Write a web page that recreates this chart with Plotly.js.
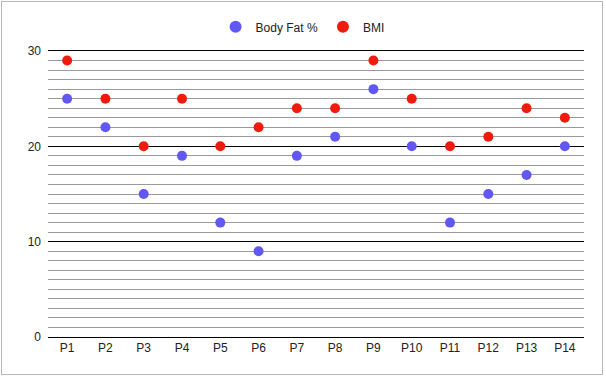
<!DOCTYPE html>
<html><head><meta charset="utf-8">
<script src="https://cdn.plot.ly/plotly-3.0.1.min.js"></script>
<style>
html,body{margin:0;padding:0;background:#fff;}
#wrap{position:relative;width:606px;height:378px;}
#chart{position:absolute;left:0;top:0;width:606px;height:378px;}
#frame{position:absolute;left:1px;top:1px;width:602px;height:374px;border:1px solid #b7b7b7;box-sizing:border-box;pointer-events:none;}
</style></head>
<body>
<div id="wrap"><div id="chart"></div><div id="frame"></div></div>
<script>
const categories = ['P1','P2','P3','P4','P5','P6','P7','P8','P9','P10','P11','P12','P13','P14'];
const bodyFat = [25,22,15,19,12,9,19,21,26,20,12,15,17,20];
const bmi = [29,25,20,25,20,22,24,24,29,25,20,21,24,23];

const traces = [
  {x: categories, y: bodyFat, name: 'Body Fat %', type: 'scatter', mode: 'markers',
   marker: {color: '#6157f3', size: 10}},
  {x: categories, y: bmi, name: 'BMI', type: 'scatter', mode: 'markers',
   marker: {color: '#f01b0c', size: 10}}
];
const layout = {
  width: 606, height: 378,
  margin: {l: 48, r: 22, t: 51, b: 41},
  paper_bgcolor: '#fff', plot_bgcolor: '#fff',
  font: {family: 'Liberation Sans, Arial, sans-serif', size: 12, color: '#222'},
  showlegend: true,
  legend: {orientation: 'h', x: 0.475, xanchor: 'center', y: 0.929, yanchor: 'middle',
           yref: 'container', font: {size: 12, color: '#222'}, itemwidth: 30,
           itemsizing: 'constant'},
  xaxis: {type: 'category', range: [-0.5, 13.5], showgrid: false, zeroline: false,
          showline: true, mirror: true, linecolor: '#000', linewidth: 1,
          ticks: '', tickfont: {size: 12, color: '#222'}},
  yaxis: {range: [0, 30], dtick: 10, tick0: 0, gridcolor: '#000', gridwidth: 1,
          zeroline: false, showline: false, ticks: '', ticklabelstandoff: 6,
          tickfont: {size: 12, color: '#222'},
          minor: {dtick: 1, showgrid: true, gridcolor: '#9a9a9a', gridwidth: 1}}
};
Plotly.newPlot('chart', traces, layout, {displayModeBar: false, staticPlot: true});
</script>
</body></html>
